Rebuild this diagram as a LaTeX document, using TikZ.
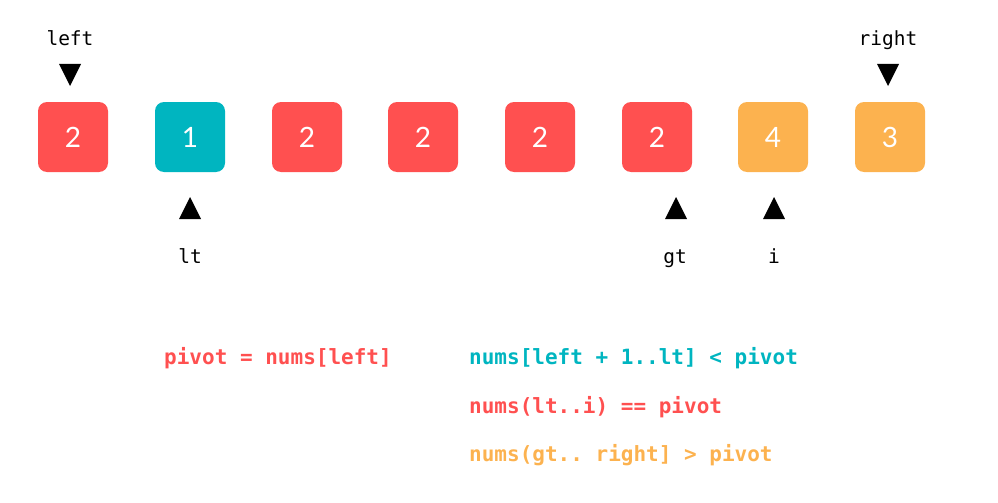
\documentclass[tikz,border=0pt]{standalone}
\usepackage{fontspec}
\setmonofont{DejaVu Sans Mono}
\newfontfamily\digitfont{Lato}
\definecolor{cred}{RGB}{255,80,80}
\definecolor{cteal}{RGB}{0,181,192}
\definecolor{corange}{RGB}{252,178,79}
\begin{document}
\begin{tikzpicture}[x=1pt,y=-1pt,
  cell/.style={minimum width=70pt,minimum height=70pt,rounded corners=9pt,inner sep=0pt,text=white,font=\digitfont\fontsize{28}{28}\selectfont},
  lbl/.style={anchor=base,inner sep=0pt,font=\ttfamily\fontsize{19.5}{19.5}\selectfont},
  code/.style={anchor=base west,inner sep=0pt,font=\ttfamily\bfseries\fontsize{21}{21}\selectfont},
  ptr/.style={fill=black}]
\useasboundingbox (0,0) rectangle (998,503);
\foreach \n/\x/\c/\v in {c0/73/cred/2,c1/190/cteal/1,c2/307/cred/2,c3/423/cred/2,c4/540/cred/2,c5/657/cred/2,c6/773/corange/4,c7/890/corange/3}{
  \node[cell,fill=\c] (\n) at (\x,137) {\vphantom{0}\v};
}
% top pointers
\node[lbl] (lleft) at (70,46) {left};
\node[lbl] (lright) at (888,46) {right};
\coordinate (tl) at (70,64);
\coordinate (tr) at (888,64);
\fill[ptr] (tl) ++(-11,0) -- ++(22,0) -- ++(-11,22) -- cycle;
\fill[ptr] (tr) ++(-11,0) -- ++(22,0) -- ++(-11,22) -- cycle;
% bottom pointers
\coordinate (plt) at (190,219);
\coordinate (pgt) at (676,219);
\coordinate (pi) at (774,219);
\foreach \p in {plt,pgt,pi}{
  \fill[ptr] (\p) ++(-11,0) -- ++(22,0) -- ++(-11,-22) -- cycle;
}
\node[lbl] (llt) at (190,263) {lt};
\node[lbl] (lgt) at (675,263) {gt};
\node[lbl] (li) at (774,263) {i};
% code
\node[code,text=cred] (t1) at (164,364) {pivot = nums[left]};
\node[code,text=cteal] (t2) at (469,364) {nums[left + 1..lt] < pivot};
\node[code,text=cred] (t3) at (469,413) {nums(lt..i) == pivot};
\node[code,text=corange] (t4) at (469,461) {nums(gt.. right] > pivot};
\end{tikzpicture}
\end{document}
